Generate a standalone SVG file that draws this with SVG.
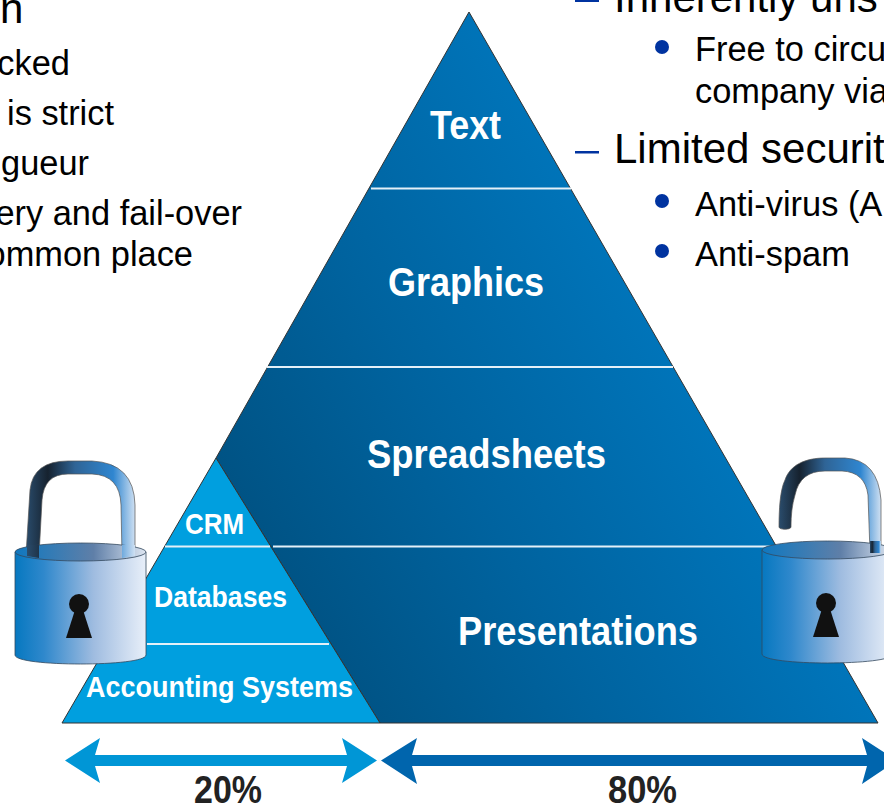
<svg xmlns="http://www.w3.org/2000/svg" width="884" height="806" viewBox="0 0 884 806">
<style>
.b{font-family:"Liberation Sans",Arial,sans-serif;fill:#000}
.l{font-size:42px}.s{font-size:34.4px}
.e{text-anchor:end}
.w{font-family:"Liberation Sans",Arial,sans-serif;font-weight:bold;fill:#fff}
.p{font-family:"Liberation Sans",Arial,sans-serif;font-weight:bold;fill:#222;font-size:38px}
.sep{stroke:#e4f0f8;stroke-width:2;fill:none}
.dash{fill:#0033a0}
.dot{fill:#0033a0}
.key{fill:#111}
.edge{stroke:#333;stroke-width:1;stroke-linejoin:round}
</style>
<defs>
<linearGradient id="dark" gradientUnits="userSpaceOnUse" x1="300" y1="720" x2="760" y2="470">
<stop offset="0" stop-color="#004f7e"/><stop offset="0.5" stop-color="#00639f"/><stop offset="1" stop-color="#0076bc"/>
</linearGradient>
<linearGradient id="body" x1="0" x2="1" y1="0" y2="0">
<stop offset="0" stop-color="#0678c0"/><stop offset="0.22" stop-color="#2f88cc"/><stop offset="0.6" stop-color="#9fbce0"/><stop offset="1" stop-color="#e8eff9"/>
</linearGradient>
<linearGradient id="lid" x1="0" x2="1" y1="0" y2="0">
<stop offset="0" stop-color="#0f78c0"/><stop offset="0.6" stop-color="#5f7fa8"/><stop offset="1" stop-color="#dfe7f2"/>
</linearGradient>
<linearGradient id="shackle" x1="0" x2="1" y1="0" y2="0">
<stop offset="0" stop-color="#2a4c6c"/><stop offset="0.2" stop-color="#16222f"/><stop offset="0.45" stop-color="#2f6496"/><stop offset="0.8" stop-color="#2f86d0"/><stop offset="1" stop-color="#cfe0f2"/>
</linearGradient>
<g id="keyhole"><circle cx="0" cy="0" r="10" class="key"/><path d="M-4,6L4,6L13,34L-13,34Z" class="key"/></g>
</defs>

<g id="text-left">
<text class="b l" x="0" y="23">n</text>
<text class="b s e" x="70" y="75">cked</text>
<text class="b s e" x="114" y="125">is strict</text>
<text class="b s e" x="89" y="175">gueur</text>
<text class="b s e" x="242" y="225">ery and fail-over</text>
<text class="b s e" x="193" y="266">ommon place</text>
</g>
<g id="text-right">
<rect class="dash" x="575" y="0" width="24" height="2"/>
<text class="b l" x="614" y="12">Inherently uns</text>
<circle class="dot" cx="662" cy="47" r="7"/>
<text class="b s" x="695" y="61">Free to circu</text>
<text class="b s" x="695" y="103">company via</text>
<rect class="dash" x="575" y="151" width="24" height="2.5"/>
<text class="b l" x="614" y="163">Limited securit</text>
<circle class="dot" cx="662" cy="201" r="7"/>
<text class="b s" x="695" y="216">Anti-virus (A</text>
<circle class="dot" cx="662" cy="251" r="7"/>
<text class="b s" x="695" y="266">Anti-spam</text>
</g>

<g id="pyramid-80">
<path class="edge" d="M469,12L878,723L380,723L216,458Z" fill="url(#dark)"/>
<path class="sep" d="M371,188.500H571M267,367H673M273,546.500H775"/>
<text class="w" x="430" y="139" font-size="41" textLength="71" lengthAdjust="spacingAndGlyphs">Text</text>
<text class="w" x="388" y="296" font-size="41" textLength="156" lengthAdjust="spacingAndGlyphs">Graphics</text>
<text class="w" x="367" y="468" font-size="41" textLength="239" lengthAdjust="spacingAndGlyphs">Spreadsheets</text>
<text class="w" x="458" y="645" font-size="41" textLength="240" lengthAdjust="spacingAndGlyphs">Presentations</text>
</g>
<g id="pyramid-20">
<path class="edge" d="M216,458L380,723L62,723Z" fill="#009fdf"/>
<path class="sep" d="M165,546.500H270M147,644H329"/>
<text class="w" x="185" y="534" font-size="30" textLength="59" lengthAdjust="spacingAndGlyphs">CRM</text>
<text class="w" x="154" y="607" font-size="30" textLength="133" lengthAdjust="spacingAndGlyphs">Databases</text>
<text class="w" x="86" y="697" font-size="30" textLength="267" lengthAdjust="spacingAndGlyphs">Accounting Systems</text>
</g>

<g id="lock-closed">
<path d="M26,555L30,490Q33,461 68,461L92,461Q134,463 135,505L135,556L122,556L121,505Q120,475 92,474L68,474Q44,474 42,500L39,556Z" fill="url(#shackle)" stroke="#555" stroke-width="0.7"/>
<path d="M15,552V655C15,667 146,667 146,655V552Z" fill="url(#body)" stroke="#34495e" stroke-width="0.8"/>
<ellipse cx="80.500" cy="552" rx="65.500" ry="9" fill="url(#lid)" stroke="#34495e" stroke-width="0.8"/>
<path d="M27,556V545H39V558ZM122,558V545H135V556Z" fill="url(#shackle)"/>
<use href="#keyhole" x="79" y="604"/>
</g>
<g id="lock-open">
<path d="M779,527C779,510 780,490 785,480C790,465 805,458 825,458L845,458Q878,460 881,500L881,552L870,552L868,495Q865,472 842,471L825,471Q800,471 795,495C792,505 791,515 791,527C791,530 779,530 779,527Z" fill="url(#shackle)" stroke="#555" stroke-width="0.7"/>
<path d="M762,550V654C762,666 893,666 893,654V550Z" fill="url(#body)" stroke="#34495e" stroke-width="0.8"/>
<ellipse cx="827.500" cy="550" rx="65.500" ry="9" fill="url(#lid)" stroke="#34495e" stroke-width="0.8"/>
<path d="M870,553V541H881V553Z" fill="url(#shackle)"/>
<use href="#keyhole" x="826" y="603"/>
</g>

<g id="connectors">
<path id="arrow-20" d="M65,760.500L100,738L95,755H347L342,738L377,760.500L342,783L347,766H95L100,783Z" fill="#0096d6"/>
<path id="arrow-80" d="M381,760.500L417,738L412,755H867L862,738L897,760.500L862,784L867,766H412L417,784Z" fill="#0065ad"/>
</g>
<g id="percent-labels">
<text class="p" x="194" y="803" textLength="68" lengthAdjust="spacingAndGlyphs">20%</text>
<text class="p" x="608" y="803" textLength="69" lengthAdjust="spacingAndGlyphs">80%</text>
</g>
</svg>
